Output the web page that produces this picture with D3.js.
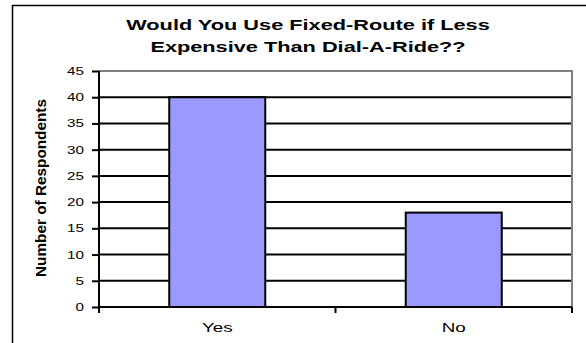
<!DOCTYPE html>
<html>
<head>
<meta charset="utf-8">
<script src="https://cdn.jsdelivr.net/npm/d3@7"></script>
<style>
  body { margin: 0; background: #fff; }
  svg { display: block; font-family: "Liberation Sans", Arial, sans-serif; }
</style>
</head>
<body>
<svg id="chart"></svg>
<script>
// chart data
const categories = ['Yes', 'No'];
const respondents = [40, 18];
const yTicks = [0, 5, 10, 15, 20, 25, 30, 35, 40, 45];
const titleLines = ['Would You Use Fixed-Route if Less', 'Expensive Than Dial-A-Ride??'];
const yLabel = 'Number of Respondents';

const w = 586;
const h = 343;
// text in the original is stretched sideways
const sx = 1.45;

const svg = d3.select('#chart')
    .attr('width', w)
    .attr('height', h);

// outer chart border (right and bottom fall off the picture)
svg.append('rect')
    .attr('x', 12.5).attr('y', 5.5)
    .attr('width', 700).attr('height', 500)
    .attr('fill', 'none')
    .attr('stroke', '#000')
    .attr('stroke-width', 1.5);

const plot = { left: 99, right: 572, top: 71, bottom: 307 };

const x = d3.scaleBand()
    .domain(categories)
    .range([plot.left, plot.right])
    .paddingInner(0.594)
    .paddingOuter(0.297);

const y = d3.scaleLinear()
    .domain([0, 45])
    .range([plot.bottom, plot.top]);

// stretched text helper
function label(x0, y0, txt, anchor, size, weight) {
    const g = svg.append('g').attr('transform', `translate(${x0},${y0}) scale(${sx},1)`);
    g.append('text')
        .attr('text-anchor', anchor)
        .style('font-size', size + 'px')
        .style('font-weight', weight || 'normal')
        .text(txt);
    return g;
}

// title
titleLines.forEach((t, i) => label(308, 30 + i * 22, t, 'middle', 15, 'bold'));

// gridlines
svg.append('g')
    .selectAll('line')
    .data(yTicks.filter(d => d > 0 && d < 45))
    .join('line')
    .attr('x1', plot.left).attr('x2', plot.right)
    .attr('y1', d => y(d)).attr('y2', d => y(d))
    .attr('stroke', '#000')
    .attr('stroke-width', 2);

// plot area border top / right in grey
svg.append('path')
    .attr('d', `M${plot.left},${y(45)}H${plot.right}V${plot.bottom}`)
    .attr('fill', 'none')
    .attr('stroke', '#808080')
    .attr('stroke-width', 2);

// bars
svg.append('g')
    .selectAll('rect')
    .data(respondents)
    .join('rect')
    .attr('x', (d, i) => x(categories[i]))
    .attr('y', d => y(d))
    .attr('width', x.bandwidth())
    .attr('height', d => y(0) - y(d))
    .attr('fill', '#9999ff')
    .attr('stroke', '#000')
    .attr('stroke-width', 2);

// y axis
const yAxis = svg.append('g')
    .attr('transform', `translate(${plot.left},0)`)
    .call(d3.axisLeft(y).tickValues(yTicks).tickSize(7).tickPadding(0).tickFormat(''));
yAxis.selectAll('line, path').attr('stroke', '#000').attr('stroke-width', 2);
yAxis.select('.domain').attr('d', `M0,${y(45)}V${plot.bottom + 6}`);

yTicks.forEach(t => label(84, y(t) + 4, String(t), 'end', 10.5));

// x axis
const step = x.step();
const bounds = [plot.left, plot.left + step, plot.right];
svg.append('line')
    .attr('x1', plot.left).attr('x2', plot.right)
    .attr('y1', plot.bottom).attr('y2', plot.bottom)
    .attr('stroke', '#000').attr('stroke-width', 2);
svg.append('g')
    .selectAll('line')
    .data(bounds)
    .join('line')
    .attr('x1', d => d).attr('x2', d => d)
    .attr('y1', plot.bottom).attr('y2', plot.bottom + 6)
    .attr('stroke', '#000').attr('stroke-width', 2);

categories.forEach(c => label(x(c) + x.bandwidth() / 2, 332, c, 'middle', 13));

// y axis title, rotated
const yl = svg.append('g').attr('transform', `translate(46,188) scale(${sx},1) rotate(-90)`);
yl.append('text')
    .attr('text-anchor', 'middle')
    .attr('textLength', 178)
    .attr('lengthAdjust', 'spacingAndGlyphs')
    .style('font-size', '9.5px')
    .style('font-weight', 'bold')
    .text(yLabel);
</script>
</body>
</html>
